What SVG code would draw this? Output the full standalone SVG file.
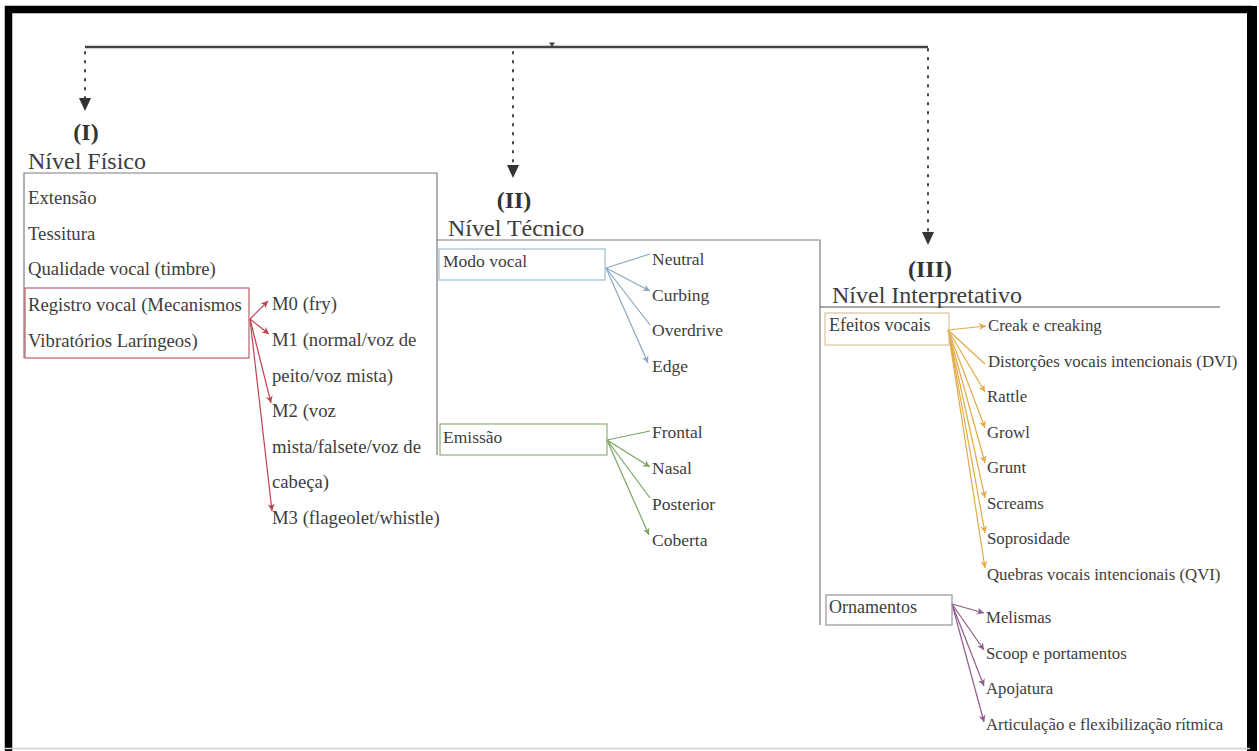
<svg xmlns="http://www.w3.org/2000/svg" width="1259" height="751" viewBox="0 0 1259 751">
<style>
text{font-family:"Liberation Serif","Times New Roman",serif;fill:#3d3d3d}
.h{font-size:24px}
.b{font-size:24px;font-weight:bold;text-anchor:middle;fill:#333}
.l{font-size:18.7px}
.m{font-size:17.5px}
.r{font-size:16.8px}
.rb{font-size:18px}
.frame{fill:none;stroke:#7d7d7d;stroke-width:1.2}
.dot{fill:none;stroke:#444;stroke-width:2;stroke-dasharray:1.5 7.5;stroke-linecap:round}
.red{stroke:#c0404f;stroke-width:1.2;fill:none}
.blue{stroke:#8aa8bf;stroke-width:1.2;fill:none}
.green{stroke:#7aa563;stroke-width:1.2;fill:none}
.org{stroke:#e3aa45;stroke-width:1.2;fill:none}
.pur{stroke:#8f5c8f;stroke-width:1.2;fill:none}
</style>
<defs>
<marker id="aR" markerWidth="8" markerHeight="8" refX="7" refY="4" orient="auto" markerUnits="userSpaceOnUse"><path d="M0,0.5 L7,4 L0,7.5 L2,4 Z" fill="#c0404f"/></marker>
<marker id="aB" markerWidth="8" markerHeight="8" refX="7" refY="4" orient="auto" markerUnits="userSpaceOnUse"><path d="M0,0.5 L7,4 L0,7.5 L2,4 Z" fill="#8aa8bf"/></marker>
<marker id="aG" markerWidth="8" markerHeight="8" refX="7" refY="4" orient="auto" markerUnits="userSpaceOnUse"><path d="M0,0.5 L7,4 L0,7.5 L2,4 Z" fill="#7aa563"/></marker>
<marker id="aO" markerWidth="8" markerHeight="8" refX="7" refY="4" orient="auto" markerUnits="userSpaceOnUse"><path d="M0,0.5 L7,4 L0,7.5 L2,4 Z" fill="#e3aa45"/></marker>
<marker id="aP" markerWidth="8" markerHeight="8" refX="7" refY="4" orient="auto" markerUnits="userSpaceOnUse"><path d="M0,0.5 L7,4 L0,7.5 L2,4 Z" fill="#8f5c8f"/></marker>
<marker id="aK" markerWidth="12" markerHeight="14" refX="6" refY="13" orient="0" markerUnits="userSpaceOnUse"><path d="M0,0 L12,0 L6,13 Z" fill="#333"/></marker>
</defs>
<rect width="1259" height="751" fill="#fff"/>
<g id="border">
<path d="M8.5,751 V9.5 H1252" fill="none" stroke="#000" stroke-width="7.5"/>
<rect x="1247" y="6" width="10" height="745" fill="#000"/>
<line x1="5" y1="748.5" x2="1250" y2="748.5" stroke="#d0d0d0" stroke-width="1.5"/>
</g>
<g id="connectors">
<line x1="85" y1="47" x2="928" y2="47" stroke="#444" stroke-width="2.5"/>
<path d="M549,42.5 L555,42.5 L552,47 Z" fill="#444"/>
<line x1="85" y1="52" x2="85" y2="111" class="dot" marker-end="url(#aK)"/>
<line x1="513" y1="52" x2="513" y2="178" class="dot" marker-end="url(#aK)"/>
<line x1="928" y1="49" x2="928" y2="245" class="dot" marker-end="url(#aK)"/>
<g id="fan-registro">
<line x1="250" y1="319" x2="268" y2="301" class="red" marker-end="url(#aR)"/>
<line x1="250" y1="319" x2="269" y2="334" class="red" marker-end="url(#aR)"/>
<line x1="250" y1="319" x2="271" y2="403" class="red" marker-end="url(#aR)"/>
<line x1="250" y1="319" x2="272" y2="511" class="red" marker-end="url(#aR)"/>
</g>
<g id="fan-modo">
<line x1="606" y1="268" x2="650" y2="254" class="blue"/>
<line x1="606" y1="268" x2="650" y2="291" class="blue" marker-end="url(#aB)"/>
<line x1="606" y1="268" x2="650" y2="325" class="blue"/>
<line x1="606" y1="268" x2="648" y2="363" class="blue" marker-end="url(#aB)"/>
</g>
<g id="fan-emissao">
<line x1="607" y1="440" x2="650" y2="431" class="green"/>
<line x1="607" y1="440" x2="650" y2="467" class="green" marker-end="url(#aG)"/>
<line x1="607" y1="440" x2="650" y2="498" class="green"/>
<line x1="607" y1="440" x2="649" y2="535" class="green" marker-end="url(#aG)"/>
</g>
<g id="fan-efeitos">
<line x1="948" y1="330" x2="986" y2="326" class="org" marker-end="url(#aO)"/>
<line x1="948" y1="330" x2="985" y2="364" class="org"/>
<line x1="948" y1="330" x2="985" y2="392" class="org" marker-end="url(#aO)"/>
<line x1="948" y1="330" x2="985" y2="428" class="org" marker-end="url(#aO)"/>
<line x1="948" y1="330" x2="985" y2="463" class="org" marker-end="url(#aO)"/>
<line x1="948" y1="330" x2="985" y2="498" class="org" marker-end="url(#aO)"/>
<line x1="948" y1="330" x2="985" y2="533" class="org" marker-end="url(#aO)"/>
<line x1="948" y1="330" x2="985" y2="568" class="org" marker-end="url(#aO)"/>
</g>
<g id="fan-ornamentos">
<line x1="952" y1="604" x2="984" y2="613" class="pur" marker-end="url(#aP)"/>
<line x1="952" y1="604" x2="984" y2="650" class="pur" marker-end="url(#aP)"/>
<line x1="952" y1="604" x2="984" y2="686" class="pur" marker-end="url(#aP)"/>
<line x1="952" y1="604" x2="984" y2="722" class="pur" marker-end="url(#aP)"/>
</g>
</g>
<g id="nivel-fisico">
<text x="86" y="140" class="b">(I)</text>
<text x="28" y="169" class="h">Nível Físico</text>
<path d="M24,358 V173 H437 V455" class="frame"/>
<text x="28" y="204" class="l">Extensão</text>
<text x="28" y="240" class="l">Tessitura</text>
<text x="28" y="275" class="l">Qualidade vocal (timbre)</text>
</g>
<g id="registro-vocal">
<rect x="25" y="288" width="224" height="70" fill="none" stroke="#b8606c" stroke-width="1.2"/>
<text x="28" y="311" class="l">Registro vocal (Mecanismos</text>
<text x="28" y="347" class="l">Vibratórios Laríngeos)</text>
</g>
<g id="mecanismos">
<text x="272" y="310" class="l">M0 (fry)</text>
<text x="272" y="346" class="l">M1 (normal/voz de</text>
<text x="272" y="382" class="l">peito/voz mista)</text>
<text x="272" y="417" class="l">M2 (voz</text>
<text x="272" y="453" class="l">mista/falsete/voz de</text>
<text x="272" y="488" class="l">cabeça)</text>
<text x="272" y="524" class="l">M3 (flageolet/whistle)</text>
</g>
<g id="nivel-tecnico">
<text x="514" y="208" class="b">(II)</text>
<text x="448" y="236" class="h">Nível Técnico</text>
<path d="M437,240 H820 V625" class="frame"/>
</g>
<g id="modo-vocal">
<rect x="439" y="249" width="166" height="31" fill="none" stroke="#9fbdd0" stroke-width="1.2"/>
<text x="443" y="267" class="m">Modo vocal</text>
<text x="652" y="265" class="m">Neutral</text>
<text x="652" y="301" class="m">Curbing</text>
<text x="652" y="336" class="m">Overdrive</text>
<text x="652" y="372" class="m">Edge</text>
</g>
<g id="emissao">
<rect x="440" y="424" width="167" height="31" fill="none" stroke="#8fb07c" stroke-width="1.2"/>
<text x="443" y="443" class="m">Emissão</text>
<text x="652" y="438" class="m">Frontal</text>
<text x="652" y="474" class="m">Nasal</text>
<text x="652" y="510" class="m">Posterior</text>
<text x="652" y="546" class="m">Coberta</text>
</g>
<g id="nivel-interpretativo">
<text x="930" y="277" class="b">(III)</text>
<text x="832" y="303" class="h">Nível Interpretativo</text>
<line x1="820" y1="307" x2="1220" y2="307" stroke="#555" stroke-width="1.2"/>
</g>
<g id="efeitos-vocais">
<rect x="825" y="313" width="124" height="32" fill="none" stroke="#dcc29c" stroke-width="1.2"/>
<text x="829" y="331" class="rb">Efeitos vocais</text>
<text x="988" y="331" class="r">Creak e creaking</text>
<text x="988" y="367" class="r">Distorções vocais intencionais (DVI)</text>
<text x="987" y="402" class="r">Rattle</text>
<text x="987" y="438" class="r">Growl</text>
<text x="987" y="473" class="r">Grunt</text>
<text x="987" y="509" class="r">Screams</text>
<text x="987" y="544" class="r">Soprosidade</text>
<text x="987" y="580" class="r">Quebras vocais intencionais (QVI)</text>
</g>
<g id="ornamentos">
<rect x="826" y="595" width="126" height="30" fill="none" stroke="#9a909e" stroke-width="1.2"/>
<text x="829" y="613" class="rb">Ornamentos</text>
<text x="986" y="623" class="r">Melismas</text>
<text x="986" y="659" class="r">Scoop e portamentos</text>
<text x="986" y="694" class="r">Apojatura</text>
<text x="986" y="730" class="r">Articulação e flexibilização rítmica</text>
</g>
</svg>
